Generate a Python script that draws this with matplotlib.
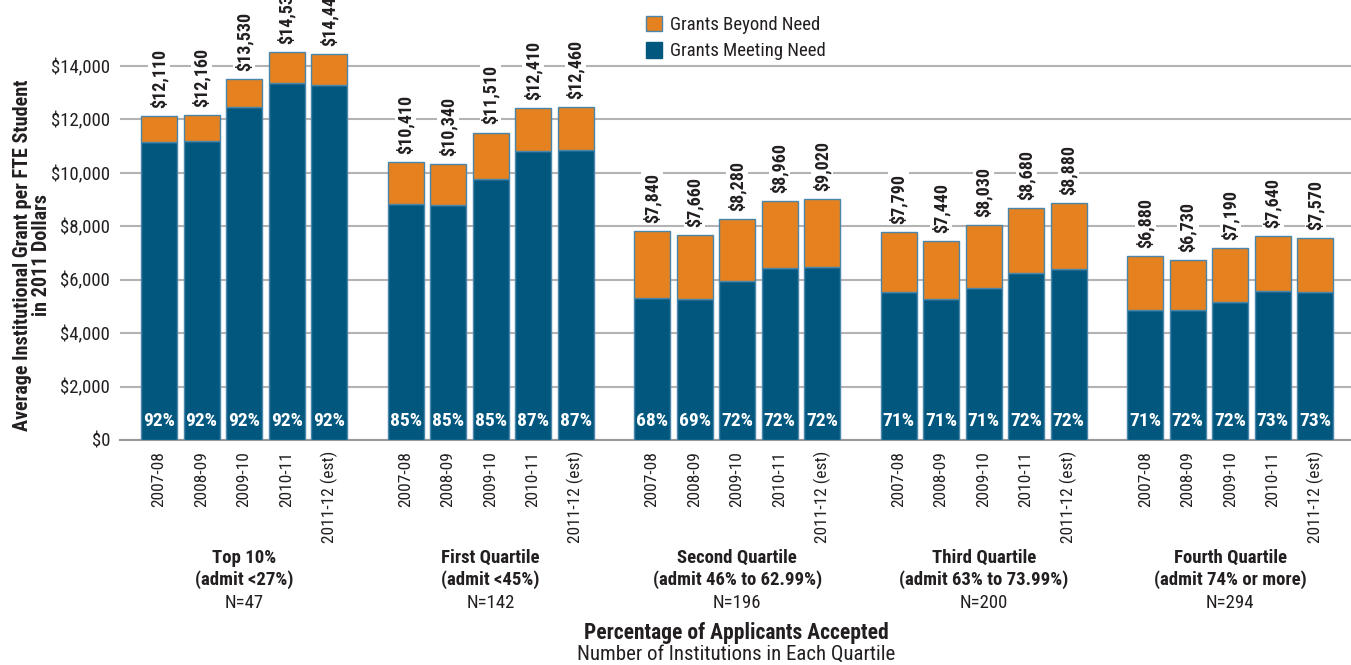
import matplotlib
matplotlib.use('Agg')
import matplotlib.pyplot as plt
import matplotlib.transforms as mtransforms
from matplotlib import font_manager
from matplotlib.patches import Patch

# the original uses a condensed sans, take the first one that is installed
names = set(f.name for f in font_manager.fontManager.ttflist)
fam = 'Liberation Sans'
for cand in ['Roboto Condensed', 'Liberation Sans Narrow', 'Archivo Narrow', 'Asap Condensed', 'Barlow Semi Condensed']:
    if cand in names:
        fam = cand
        break
plt.rcParams['font.family'] = [fam, 'DejaVu Sans']

years = ['2007-08', '2008-09', '2009-10', '2010-11', '2011-12 (est)']
groups = ['Top 10%\n(admit <27%)', 'First Quartile\n(admit <45%)',
          'Second Quartile\n(admit 46% to 62.99%)', 'Third Quartile\n(admit 63% to 73.99%)',
          'Fourth Quartile\n(admit 74% or more)']
n_inst = ['N=47', 'N=142', 'N=196', 'N=200', 'N=294']

totals = [
    [12110, 12160, 13530, 14530, 14440],
    [10410, 10340, 11510, 12410, 12460],
    [7840, 7660, 8280, 8960, 9020],
    [7790, 7440, 8030, 8680, 8880],
    [6880, 6730, 7190, 7640, 7570],
]
meeting = [
    [11140, 11190, 12450, 13370, 13290],
    [8850, 8790, 9780, 10800, 10840],
    [5330, 5290, 5960, 6450, 6490],
    [5530, 5280, 5700, 6250, 6390],
    [4880, 4850, 5180, 5580, 5530],
]
pct = [
    ['92%', '92%', '92%', '92%', '92%'],
    ['85%', '85%', '85%', '87%', '87%'],
    ['68%', '69%', '72%', '72%', '72%'],
    ['71%', '71%', '71%', '72%', '72%'],
    ['71%', '72%', '72%', '73%', '73%'],
]

blue = '#02577f'
orange = '#e5821f'
edge = '#4a86aa'
txt = '#231f20'

fig = plt.figure(figsize=(13.51, 6.65), dpi=100)
ax = fig.add_axes([120/1351, 225/665, 1231/1351, 440/665])
xfig = mtransforms.blended_transform_factory(ax.transData, fig.transFigure)

step = 5.8
xs, labels = [], []
for g in range(len(groups)):
    for j in range(len(years)):
        x = g*step + j
        xs.append(x)
        labels.append(years[j])
        tot = totals[g][j]
        mn = meeting[g][j]
        ax.bar(x, mn, width=0.85, color=blue, edgecolor=edge, linewidth=1, zorder=3)
        ax.bar(x, tot - mn, bottom=mn, width=0.85, color=orange, edgecolor=edge, linewidth=1, zorder=3)
        ax.text(x, tot + 300, '${:,}'.format(tot), rotation=90, ha='center', va='bottom',
                fontsize=13, fontweight='bold', color=txt, zorder=4,
                bbox=dict(facecolor='white', edgecolor='none', pad=1))
        ax.text(x, 700, pct[g][j], ha='center', va='center', fontsize=14,
                fontweight='bold', color='white', zorder=4)
    cx = g*step + 2
    ax.text(cx, 1 - 549/665, groups[g], transform=xfig, ha='center', va='top', fontsize=13.5,
            fontweight='bold', color=txt, linespacing=1.2)
    ax.text(cx, 1 - 603/665, n_inst[g], transform=xfig, ha='center', va='center',
            fontsize=13.5, color=txt)

ax.set_xlim(-0.92, 28.04)
ax.set_ylim(0, 16470)
ax.set_yticks(range(0, 16000, 2000))
ax.set_yticklabels(['${:,}'.format(v) for v in range(0, 16000, 2000)], fontsize=13.5, color=txt)
ax.set_xticks(xs)
ax.set_xticklabels(labels, rotation=90, fontsize=12.5, color=txt)
ax.tick_params(axis='x', length=0, pad=8)
ax.tick_params(axis='y', length=0, pad=7)
ax.grid(axis='y', color='#b3b3b3', linewidth=1.5, zorder=0)
for s in ['top', 'right', 'left']:
    ax.spines[s].set_visible(False)
ax.spines['bottom'].set_color('#999999')
ax.spines['bottom'].set_linewidth(1.5)

fig.text(32/1351, 1 - 255/665, 'Average Institutional Grant per FTE Student\nin 2011 Dollars',
         rotation=90, ha='center', va='center', fontsize=14.5, fontweight='bold', color=txt,
         linespacing=1.05)
fig.text(736/1351, 1 - 633/665, 'Percentage of Applicants Accepted', ha='center', va='center',
         fontsize=15.5, fontweight='bold', color=txt)
fig.text(736/1351, 1 - 654/665, 'Number of Institutions in Each Quartile', ha='center', va='center',
         fontsize=15, color=txt)

handles = [Patch(facecolor=orange, edgecolor=edge), Patch(facecolor=blue, edgecolor=blue)]
fig.legend(handles, ['Grants Beyond Need', 'Grants Meeting Need'], loc='upper left',
           bbox_to_anchor=(638/1351, 1 - 8/665), frameon=False, fontsize=13.5,
           handlelength=0.9, handleheight=0.9, handletextpad=0.4, labelspacing=0.45,
           labelcolor=txt, borderaxespad=0)

fig.savefig('out.png', dpi=100)
